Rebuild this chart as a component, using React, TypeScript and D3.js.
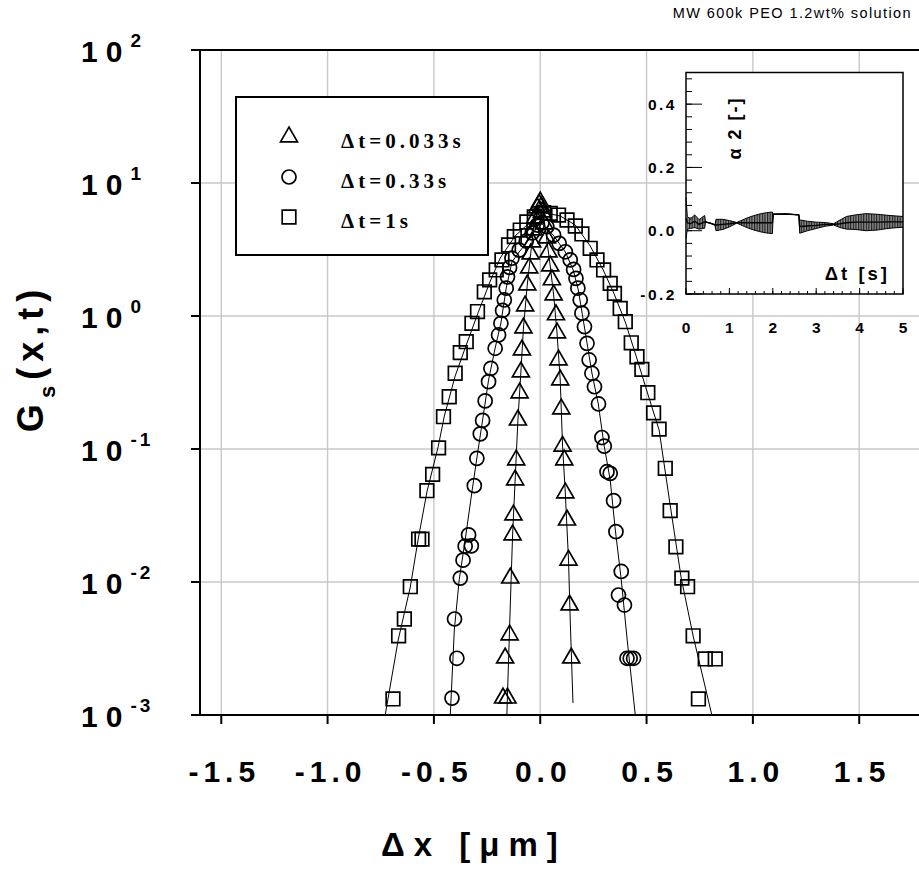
import React from 'react';
import * as d3 from 'd3';

// ---------- data ----------
const xTicks = [-1.5, -1.0, -0.5, 0.0, 0.5, 1.0, 1.5];
const yTickExps = [2, 1, 0, -1, -2, -3];
const insetYTicks = [-0.2, 0.0, 0.2, 0.4];
const insetXTicks = [0, 1, 2, 3, 4, 5];
const legendLabels = ['\u0394t=0.033s', '\u0394t=0.33s', '\u0394t=1s'];

// Δt = 0.033 s (triangles)
const triX = [-0.175, -0.154, -0.165, -0.144, -0.141, -0.130, -0.126, -0.118, -0.113, -0.105, -0.097, -0.091, -0.086, -0.079, -0.071, -0.061, -0.052, -0.045, -0.038, -0.031, -0.024, -0.014, -0.005, 0.000, 0.005, 0.009, 0.019, 0.031, 0.039, 0.047, 0.055, 0.063, 0.074, 0.079, 0.086, 0.094, 0.099, 0.105, 0.113, 0.118, 0.126, 0.133, 0.138, 0.146];
const triY = [0.00134, 0.00134, 0.00268, 0.0040, 0.0107, 0.0226, 0.0319, 0.0585, 0.0827, 0.165, 0.264, 0.379, 0.555, 0.812, 1.19, 1.71, 2.30, 2.93, 3.60, 4.43, 5.46, 6.49, 6.9, 7.20, 6.6, 6.05, 4.92, 3.86, 3.03, 2.38, 1.87, 1.44, 1.02, 0.745, 0.467, 0.330, 0.200, 0.105, 0.0827, 0.0467, 0.0292, 0.0146, 0.00671, 0.00268];
const triFitX = [-0.157, -0.143, -0.130, -0.118, -0.105, -0.091, -0.079, -0.061, -0.045, -0.031, -0.014, 0, 0.014, 0.031, 0.047, 0.063, 0.079, 0.094, 0.105, 0.118, 0.133, 0.141, 0.154];
const triFitY = [0.001, 0.00518, 0.0226, 0.0585, 0.165, 0.379, 0.812, 1.71, 2.93, 4.59, 6.27, 7.32, 6.05, 3.73, 2.38, 1.44, 0.745, 0.330, 0.105, 0.0467, 0.0146, 0.00518, 0.00123];

// Δt = 0.33 s (circles)
const cirX = [-0.415, -0.392, -0.403, -0.376, -0.363, -0.353, -0.324, -0.337, -0.310, -0.298, -0.282, -0.271, -0.259, -0.243, -0.232, -0.212, -0.196, -0.185, -0.177, -0.169, -0.160, -0.154, -0.144, -0.133, -0.099, -0.066, -0.038, -0.014, 0.008, 0.031, 0.063, 0.089, 0.118, 0.141, 0.157, 0.168, 0.177, 0.188, 0.196, 0.208, 0.220, 0.230, 0.243, 0.255, 0.274, 0.290, 0.301, 0.314, 0.329, 0.345, 0.356, 0.381, 0.368, 0.396, 0.408, 0.423, 0.439];
const cirY = [0.00134, 0.00267, 0.00527, 0.0107, 0.0146, 0.0186, 0.0187, 0.0226, 0.0530, 0.0851, 0.130, 0.164, 0.230, 0.321, 0.404, 0.572, 0.720, 0.881, 1.10, 1.32, 1.62, 1.97, 2.32, 2.72, 3.13, 3.66, 4.21, 4.83, 5.0, 4.69, 4.06, 3.52, 3.04, 2.64, 2.24, 1.92, 1.62, 1.32, 1.05, 0.831, 0.623, 0.467, 0.371, 0.294, 0.218, 0.122, 0.105, 0.0675, 0.0656, 0.0409, 0.0239, 0.0120, 0.00798, 0.00671, 0.00267, 0.00267, 0.00267];
const cirFitX = [-0.423, -0.404, -0.381, -0.353, -0.320, -0.298, -0.271, -0.243, -0.212, -0.185, -0.160, -0.133, -0.099, -0.047, 0, 0.061, 0.118, 0.155, 0.179, 0.197, 0.220, 0.243, 0.273, 0.301, 0.329, 0.353, 0.381, 0.409, 0.447];
const cirFitY = [0.001, 0.00436, 0.0104, 0.0207, 0.0492, 0.0855, 0.165, 0.330, 0.574, 0.886, 1.62, 2.55, 3.03, 3.86, 5.09, 4.06, 3.03, 2.22, 1.57, 1.05, 0.627, 0.373, 0.218, 0.105, 0.0585, 0.0246, 0.0104, 0.00366, 0.001];

// Δt = 1 s (squares)
const sqX = [-0.6925, -0.666, -0.639, -0.611, -0.572, -0.556, -0.533, -0.506, -0.478, -0.455, -0.428, -0.400, -0.376, -0.348, -0.321, -0.295, -0.263, -0.238, -0.207, -0.180, -0.149, -0.122, -0.094, -0.063, -0.028, 0.016, 0.047, 0.086, 0.126, 0.165, 0.196, 0.235, 0.267, 0.298, 0.329, 0.349, 0.376, 0.400, 0.428, 0.455, 0.478, 0.506, 0.533, 0.559, 0.588, 0.611, 0.638, 0.666, 0.693, 0.719, 0.744, 0.776, 0.823];
const sqY = [0.00132, 0.00394, 0.00527, 0.00922, 0.0210, 0.0210, 0.0486, 0.0645, 0.102, 0.175, 0.247, 0.371, 0.530, 0.641, 0.881, 1.08, 1.52, 1.87, 2.22, 2.64, 3.42, 3.95, 4.43, 5.09, 5.55, 5.98, 5.91, 5.74, 5.27, 4.75, 4.14, 3.23, 2.64, 2.22, 1.76, 1.48, 1.14, 0.906, 0.629, 0.494, 0.397, 0.265, 0.187, 0.141, 0.0716, 0.0344, 0.0184, 0.0107, 0.00922, 0.00394, 0.00132, 0.00264, 0.00264];
const sqFitX = [-0.729, -0.668, -0.611, -0.574, -0.532, -0.480, -0.451, -0.400, -0.348, -0.291, -0.235, -0.188, -0.118, -0.047, 0.024, 0.094, 0.165, 0.235, 0.296, 0.348, 0.400, 0.451, 0.503, 0.559, 0.611, 0.663, 0.719, 0.807];
const sqFitY = [0.001, 0.00366, 0.00917, 0.0210, 0.0483, 0.104, 0.177, 0.354, 0.605, 1.07, 1.83, 2.73, 4.00, 5.09, 5.95, 5.65, 4.83, 3.36, 2.22, 1.46, 0.901, 0.500, 0.268, 0.139, 0.0379, 0.0107, 0.00393, 0.001];

// inset: non-Gaussian parameter alpha2 vs Δt
const alphaT = [0, 0.03, 0.1, 0.2, 0.3, 0.43, 0.45, 0.6, 0.67, 0.69, 0.85, 1.0, 1.17, 1.35, 1.5, 1.7, 1.85, 1.99, 2.01, 2.3, 2.6, 2.62, 2.8, 3.0, 3.2, 3.4, 3.55, 3.7, 3.9, 4.15, 4.4, 4.7, 5.0];
const alphaMean = [0.04, 0.025, 0.022, 0.03, 0.02, 0.028, 0.028, 0.022, 0.018, 0.018, 0.02, 0.022, 0.025, 0.025, 0.025, 0.025, 0.025, 0.025, 0.052, 0.053, 0.05, 0.013, 0.015, 0.017, 0.02, 0.02, 0.022, 0.025, 0.027, 0.027, 0.027, 0.028, 0.028];
const alphaErr = [0.065, 0.02, 0.015, 0.02, 0.015, 0.02, 0, 0, 0, 0.018, 0.016, 0.01, 0.001, 0.012, 0.02, 0.028, 0.032, 0.034, 0, 0, 0, 0.021, 0.015, 0.01, 0.006, 0.002, 0.012, 0.02, 0.023, 0.027, 0.025, 0.02, 0.017];

// ---------- layout ----------
const W = 919, H = 889;
const SANS = '"Liberation Sans", Arial, sans-serif';
const SERIF = '"Liberation Serif", "Times New Roman", serif';

export default function App() {
  const x = d3.scaleLinear().domain([-1.6, 1.8]).range([200, 923]);
  const y = d3.scaleLog().domain([1e-3, 1e2]).range([715, 50]);
  const ix = d3.scaleLinear().domain([0, 5]).range([686, 903]);
  const iy = d3.scaleLinear().domain([-0.2, 0.5]).range([294, 72.5]);

  const zip = (xs: number[], ys: number[]) => xs.map((v, i) => [v, ys[i]] as [number, number]);
  const line = d3.line<[number, number]>().x(d => x(d[0])).y(d => y(d[1]));

  const triSym = d3.symbol().type(d3.symbolTriangle).size(125)();
  const cirSym = d3.symbol().type(d3.symbolCircle).size(155)();
  const sqSym = d3.symbol().type(d3.symbolSquare).size(185)();

  const series = [
    { px: triX, py: triY, fx: triFitX, fy: triFitY, sym: triSym },
    { px: cirX, py: cirY, fx: cirFitX, fy: cirFitY, sym: cirSym },
    { px: sqX, py: sqY, fx: sqFitX, fy: sqFitY, sym: sqSym },
  ];

  const alphaData = alphaT.map((t, i) => ({ t, m: alphaMean[i], e: alphaErr[i] }));
  const band = d3.area<{ t: number; m: number; e: number }>()
    .x(d => ix(d.t)).y0(d => iy(d.m - d.e)).y1(d => iy(d.m + d.e));
  const upper = d3.line<{ t: number; m: number; e: number }>().x(d => ix(d.t)).y(d => iy(d.m + d.e));
  const lower = d3.line<{ t: number; m: number; e: number }>().x(d => ix(d.t)).y(d => iy(d.m - d.e));
  const meanLine = d3.line<{ t: number; m: number; e: number }>().x(d => ix(d.t)).y(d => iy(d.m));

  const iyMinor = d3.range(-0.2, 0.5001, 0.04);
  const ixMinor = d3.range(0, 5.0001, 0.2);

  return (
    <svg width={W} height={H} style={{ position: 'absolute', left: 0, top: 0, background: '#fff' }}
      xmlns="http://www.w3.org/2000/svg">
      <defs>
        <clipPath id="plotClip">
          <rect x={200} y={50} width={723} height={665} />
        </clipPath>
        <pattern id="hatch" width={2.6} height={4} patternUnits="userSpaceOnUse">
          <rect width={2.6} height={4} fill="#8a8a8a" />
          <line x1={0.6} y1={0} x2={0.6} y2={4} stroke="#111" strokeWidth={1} />
        </pattern>
      </defs>

      {/* title */}
      <text x={912} y={18} textAnchor="end" fontFamily={SANS} fontSize={14.5} letterSpacing={1.4} fill="#000">
        MW 600k PEO 1.2wt% solution
      </text>

      {/* gridlines */}
      <g stroke="#c8c8c8" strokeWidth={1.4}>
        {xTicks.map(t => <line key={'gx' + t} x1={x(t)} x2={x(t)} y1={50} y2={715} />)}
        {yTickExps.filter(e => e > -3 && e < 2).map(e => (
          <line key={'gy' + e} x1={200} x2={923} y1={y(Math.pow(10, e))} y2={y(Math.pow(10, e))} />
        ))}
      </g>

      {/* fit lines + markers */}
      <g clipPath="url(#plotClip)">
        {series.map((s, k) => (
          <path key={'fit' + k} d={line(zip(s.fx, s.fy)) || ''} fill="none" stroke="#000" strokeWidth={1} />
        ))}
        {series.map((s, k) => (
          <g key={'m' + k}>
            {s.px.map((v, i) => (
              <path key={i} d={s.sym || ''} transform={`translate(${x(v)},${y(s.py[i])})`}
                fill="none" stroke="#000" strokeWidth={1.7} />
            ))}
          </g>
        ))}
      </g>

      {/* axes */}
      <g stroke="#000" strokeWidth={2}>
        <line x1={200} x2={200} y1={49} y2={716} />
        <line x1={199} x2={923} y1={715} y2={715} />
        <line x1={199} x2={923} y1={50} y2={50} />
        {xTicks.map(t => <line key={'tx' + t} x1={x(t)} x2={x(t)} y1={715} y2={724} />)}
        {yTickExps.map(e => (
          <line key={'ty' + e} x1={191} x2={200} y1={y(Math.pow(10, e))} y2={y(Math.pow(10, e))} />
        ))}
      </g>

      {/* x tick labels */}
      {xTicks.map(t => (
        <text key={'lx' + t} x={x(t) + 3} y={782} textAnchor="middle" fontFamily={SANS} fontWeight="bold"
          fontSize={30} letterSpacing={5}>{t.toFixed(1)}</text>
      ))}
      {/* y tick labels */}
      {yTickExps.map(e => (
        <text key={'ly' + e} x={81} y={y(Math.pow(10, e)) + 12} fontFamily={SANS} fontWeight="bold"
          fontSize={30} letterSpacing={8}>
          10<tspan dy={-15} fontSize={19} letterSpacing={3}>{String(e)}</tspan>
        </text>
      ))}

      {/* axis titles */}
      <text x={474} y={856} textAnchor="middle" fontFamily={SANS} fontWeight="bold" fontSize={33} letterSpacing={9}>
        {'\u0394x [\u03bcm]'}
      </text>
      <text transform="translate(43,358) rotate(-90)" textAnchor="middle" fontFamily={SANS} fontWeight="bold"
        fontSize={36} letterSpacing={6}>
        G<tspan dy={12} fontSize={22}>s</tspan><tspan dy={-12}>(x,t)</tspan>
      </text>

      {/* legend */}
      <rect x={236} y={97} width={252} height={158} fill="#fff" stroke="#000" strokeWidth={2} />
      {[triSym, cirSym, sqSym].map((s, i) => (
        <path key={'ls' + i} d={s || ''} transform={`translate(289,${[137, 177, 217][i]})`} fill="none"
          stroke="#000" strokeWidth={1.7} />
      ))}
      {legendLabels.map((l, i) => (
        <text key={'lt' + i} x={341} y={[148, 188, 228][i]} fontFamily={SERIF} fontWeight="bold" fontSize={21}
          letterSpacing={4}>{l}</text>
      ))}

      {/* inset */}
      <rect x={686} y={72.5} width={217} height={221.5} fill="#fff" stroke="#000" strokeWidth={1.5} />
      <g stroke="#000" strokeWidth={1}>
        {iyMinor.map((v, i) => (
          <line key={'imy' + i} x1={686} x2={692} y1={iy(v)} y2={iy(v)} />
        ))}
        {insetYTicks.map(v => <line key={'iMy' + v} x1={686} x2={702} y1={iy(v)} y2={iy(v)} />)}
        {ixMinor.map((v, i) => (
          <line key={'imx' + i} x1={ix(v)} x2={ix(v)} y1={294} y2={291} />
        ))}
        {insetXTicks.map(v => <line key={'iMx' + v} x1={ix(v)} x2={ix(v)} y1={294} y2={288} />)}
      </g>
      <path d={band(alphaData) || ''} fill="url(#hatch)" stroke="none" />
      <path d={upper(alphaData) || ''} fill="none" stroke="#000" strokeWidth={1} />
      <path d={lower(alphaData) || ''} fill="none" stroke="#000" strokeWidth={1} />
      <path d={meanLine(alphaData) || ''} fill="none" stroke="#000" strokeWidth={1.4} />

      {insetYTicks.map(v => (
        <text key={'ily' + v} x={677} y={iy(v) + 5.5} textAnchor="end" fontFamily={SANS} fontWeight="bold"
          fontSize={15.5} letterSpacing={2.5}>{v.toFixed(1)}</text>
      ))}
      {insetXTicks.map(v => (
        <text key={'ilx' + v} x={ix(v)} y={333} textAnchor="middle" fontFamily={SANS} fontWeight="bold"
          fontSize={15.5}>{String(v)}</text>
      ))}
      <text transform="translate(741,128) rotate(-90)" textAnchor="middle" fontFamily={SANS} fontWeight="bold"
        fontSize={18} letterSpacing={2}>{'\u03b1 2 [-]'}</text>
      <text x={890} y={280} textAnchor="end" fontFamily={SANS} fontWeight="bold" fontSize={18.5}
        letterSpacing={3}>{'\u0394t [s]'}</text>
    </svg>
  );
}
